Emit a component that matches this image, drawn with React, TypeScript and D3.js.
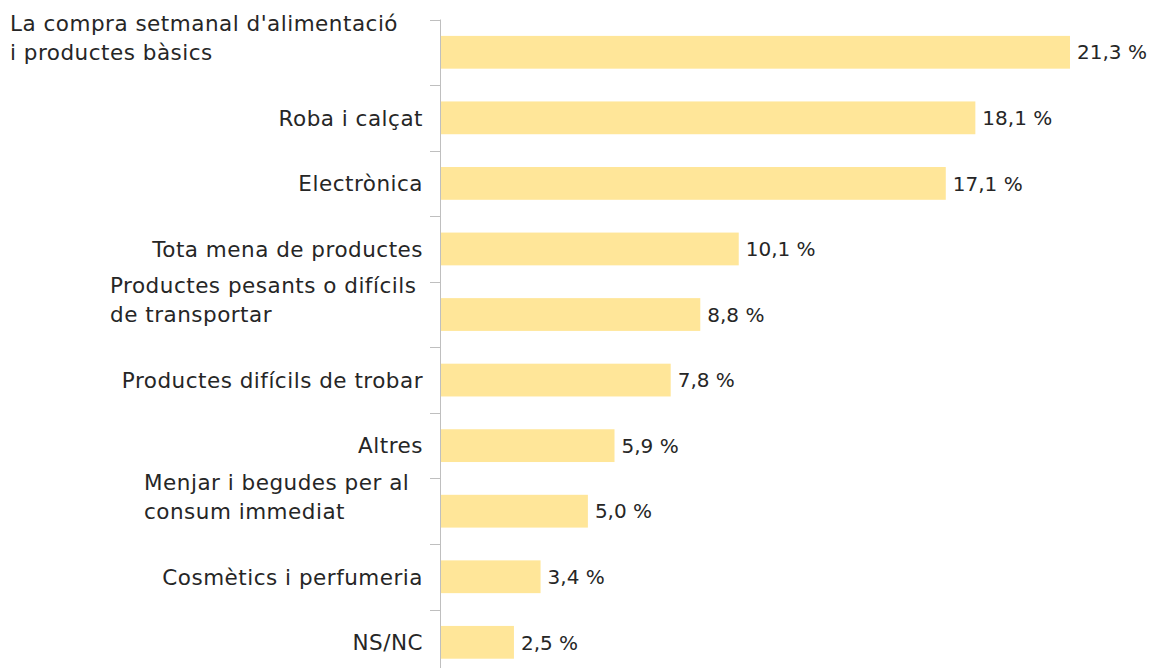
import React from "react";
import * as d3 from "d3";

const categories: string[][] = [
  ["La compra setmanal d'alimentació", "i productes bàsics"],
  ["Roba i calçat"],
  ["Electrònica"],
  ["Tota mena de productes"],
  ["Productes pesants o difícils", "de transportar"],
  ["Productes difícils de trobar"],
  ["Altres"],
  ["Menjar i begudes per al", "consum immediat"],
  ["Cosmètics i perfumeria"],
  ["NS/NC"],
];
const values: number[] = [21.3, 18.1, 17.1, 10.1, 8.8, 7.8, 5.9, 5.0, 3.4, 2.5];
const valueLabels: string[] = ["21,3 %", "18,1 %", "17,1 %", "10,1 %", "8,8 %", "7,8 %", "5,9 %", "5,0 %", "3,4 %", "2,5 %"];

const W = 1149;
const H = 668;
const FONT = "'DejaVu Sans', sans-serif";

export default function App() {
  const keys = categories.map((c, i) => String(i));
  const x = d3.scaleLinear().domain([0, 25]).range([440, 440 + 25 * (630 / 21.3)]);
  const y = d3
    .scaleBand<string>()
    .domain(keys)
    .range([19.5, 19.5 + 65.56 * keys.length])
    .paddingInner(0.5)
    .paddingOuter(0.25);
  const step = y.step();
  const y0 = y.range()[0];
  const ticks = d3.range(keys.length + 1).map((i) => y0 + i * step);

  return (
    <div style={{ position: "absolute", left: 0, top: 0 }}>
      <svg width={W} height={H} style={{ display: "block", fontFamily: FONT }}>
        <rect width={W} height={H} fill="#ffffff" />
        {keys.map((k, i) => {
          const yb = y(k)!;
          const bw = y.bandwidth();
          const cy = yb + bw / 2;
          const lines = categories[i];
          const multi = lines.length > 1;
          return (
            <g key={k}>
              <rect x={x(0)} y={yb} width={x(values[i]) - x(0)} height={bw} fill="#ffe699" />
              <text x={x(values[i]) + 7} y={cy} dy="0.36em" fontSize={20} fill="#262626">
                {valueLabels[i]}
              </text>
              {multi ? (
                <text fontSize={21.5} letterSpacing={0.5} fill="#262626" textAnchor="start">
                  {lines.map((l, j) => (
                    <tspan
                      key={j}
                      x={i === 0 ? 10 : i === 4 ? 110 : 144}
                      y={cy - (lines.length - 1 - j) * 29}
                      dy="0.36em"
                    >
                      {l}
                    </tspan>
                  ))}
                </text>
              ) : (
                <text x={423} y={cy} dy="0.36em" fontSize={21.5} letterSpacing={0.5} fill="#262626" textAnchor="end">
                  {lines[0]}
                </text>
              )}
            </g>
          );
        })}
        <line x1={440.5} x2={440.5} y1={ticks[0]} y2={H} stroke="#bfbfbf" strokeWidth={1} />
        {ticks.map((t, i) => (
          <line key={i} x1={430} x2={440.5} y1={Math.round(t) + 0.5} y2={Math.round(t) + 0.5} stroke="#bfbfbf" strokeWidth={1} />
        ))}
      </svg>
    </div>
  );
}
